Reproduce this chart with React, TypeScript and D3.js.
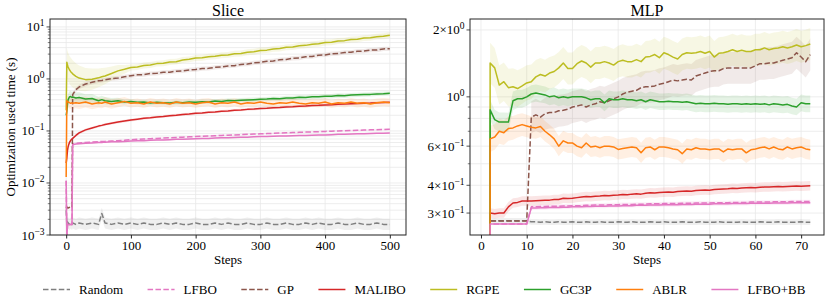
import React, { useEffect, useRef } from 'react';
import * as d3 from 'd3';

const WIDTH = 830;
const HEIGHT = 306;
const FONT = "'Liberation Serif', 'Times New Roman', Times, serif";

const METHODS = ['Random', 'LFBO', 'GP', 'MALIBO', 'RGPE', 'GC3P', 'ABLR', 'LFBO+BB'];
const COLORS = ['#7f7f7f', '#e377c2', '#8c564b', '#d62728', '#bcbd22', '#2ca02c', '#ff7f0e', '#e377c2'];
const DASHED = [true, true, true, false, false, false, false, false];

// ---- Slice (steps 0..500) ----
const SLICE_STEPS = [0, 1, 2, 3, 5, 7, 9, 10, 15, 20,
  30, 40, 50, 55, 60, 70, 80, 90, 100,
  110, 120, 130, 140, 150, 160, 170, 180, 190, 200,
  210, 220, 230, 240, 250, 260, 270, 280, 290, 300,
  310, 320, 330, 340, 350, 360, 370, 380, 390, 400,
  410, 420, 430, 440, 450, 460, 470, 480, 490, 500];

const RANDOM_SLICE = [0.003, 0.0016, 0.0018, 0.0017, 0.0016, 0.0017, 0.0016, 0.0017, 0.0016, 0.0017,
  0.0016, 0.0017, 0.0016, 0.0026, 0.0017, 0.0016, 0.0017, 0.0016, 0.0017,
  0.0016, 0.0017, 0.0016, 0.0016, 0.0017, 0.0016, 0.0017, 0.0016, 0.0016, 0.0017,
  0.0016, 0.0016, 0.0017, 0.0016, 0.0017, 0.0016, 0.0016, 0.0017, 0.0016, 0.0016,
  0.0017, 0.0016, 0.0016, 0.0017, 0.0016, 0.0016, 0.0017, 0.0016, 0.0017, 0.0016,
  0.0016, 0.0017, 0.0016, 0.0016, 0.0017, 0.0016, 0.0016, 0.0017, 0.0016, 0.0016];

const LFBO_SLICE = [0.011, 0.0009, 0.0015, 0.0016, 0.0016, 0.0016, 0.0016, 0.056, 0.058, 0.059,
  0.060, 0.061, 0.062, 0.063, 0.063, 0.064, 0.065, 0.066, 0.068,
  0.069, 0.070, 0.071, 0.072, 0.073, 0.074, 0.075, 0.076, 0.077, 0.078,
  0.079, 0.080, 0.081, 0.082, 0.083, 0.084, 0.085, 0.086, 0.087, 0.088,
  0.089, 0.090, 0.091, 0.092, 0.093, 0.094, 0.095, 0.096, 0.097, 0.098,
  0.099, 0.100, 0.101, 0.102, 0.103, 0.104, 0.105, 0.106, 0.107, 0.108];

const GP_SLICE = [0.0035, 0.0033, 0.0034, 0.0033, 0.0034, 0.0033, 0.0034, 0.50, 0.62, 0.70,
  0.80, 0.86, 0.92, 0.93, 0.96, 1.01, 1.04, 1.10, 1.15,
  1.20, 1.21, 1.27, 1.28, 1.34, 1.35, 1.41, 1.43, 1.49, 1.52,
  1.58, 1.60, 1.67, 1.70, 1.78, 1.80, 1.90, 1.93, 2.04, 2.08,
  2.19, 2.21, 2.34, 2.37, 2.50, 2.53, 2.68, 2.70, 2.86, 2.90,
  3.05, 3.08, 3.23, 3.25, 3.41, 3.43, 3.58, 3.60, 3.78, 3.80];

const MALIBO_SLICE = [0.024, 0.03, 0.042, 0.05, 0.06, 0.066, 0.07, 0.072, 0.082, 0.092,
  0.105, 0.114, 0.124, 0.128, 0.133, 0.141, 0.148, 0.155, 0.162,
  0.168, 0.175, 0.179, 0.186, 0.190, 0.197, 0.201, 0.208, 0.211, 0.218,
  0.221, 0.229, 0.232, 0.239, 0.243, 0.250, 0.253, 0.260, 0.263, 0.271,
  0.274, 0.280, 0.283, 0.290, 0.293, 0.299, 0.302, 0.308, 0.311, 0.317,
  0.319, 0.326, 0.328, 0.334, 0.336, 0.342, 0.344, 0.350, 0.351, 0.357];

const RGPE_SLICE = [0.25, 2.1, 1.85, 1.7, 1.5, 1.38, 1.3, 1.25, 1.12, 1.04,
  0.97, 0.99, 1.05, 1.1, 1.14, 1.27, 1.43, 1.53, 1.66,
  1.70, 1.81, 1.86, 1.97, 2.00, 2.12, 2.15, 2.31, 2.38, 2.52,
  2.55, 2.68, 2.72, 2.85, 2.90, 3.05, 3.09, 3.27, 3.33, 3.52,
  3.58, 3.78, 3.85, 4.05, 4.12, 4.35, 4.42, 4.65, 4.75, 5.0,
  5.08, 5.35, 5.45, 5.72, 5.8, 6.1, 6.2, 6.5, 6.62, 6.95];

const GC3P_SLICE = [0.2, 0.24, 0.33, 0.4, 0.45, 0.46, 0.44, 0.45, 0.43, 0.44,
  0.41, 0.42, 0.38, 0.40, 0.38, 0.37, 0.38, 0.36, 0.37,
  0.355, 0.36, 0.345, 0.355, 0.35, 0.345, 0.355, 0.35, 0.36, 0.355,
  0.365, 0.36, 0.375, 0.37, 0.385, 0.38, 0.39, 0.395, 0.40, 0.405,
  0.41, 0.42, 0.415, 0.43, 0.43, 0.445, 0.44, 0.455, 0.455, 0.465,
  0.465, 0.48, 0.475, 0.49, 0.495, 0.50, 0.505, 0.515, 0.52, 0.53];

const ABLR_SLICE = [0.013, 0.38, 0.37, 0.36, 0.35, 0.34, 0.35, 0.34, 0.35, 0.34,
  0.36, 0.33, 0.35, 0.34, 0.36, 0.33, 0.35, 0.37, 0.34,
  0.35, 0.33, 0.36, 0.34, 0.35, 0.33, 0.36, 0.34, 0.35, 0.33,
  0.35, 0.36, 0.33, 0.35, 0.34, 0.36, 0.33, 0.35, 0.34, 0.36,
  0.34, 0.33, 0.35, 0.34, 0.36, 0.34, 0.33, 0.35, 0.34, 0.36,
  0.33, 0.35, 0.34, 0.36, 0.34, 0.35, 0.33, 0.35, 0.36, 0.35];

const LFBO_BB_SLICE = [0.011, 0.0009, 0.0015, 0.0016, 0.0016, 0.0016, 0.0016, 0.054, 0.056, 0.057,
  0.058, 0.059, 0.060, 0.060, 0.061, 0.062, 0.062, 0.063, 0.064,
  0.065, 0.065, 0.066, 0.067, 0.067, 0.068, 0.069, 0.069, 0.070, 0.071,
  0.072, 0.072, 0.073, 0.074, 0.074, 0.075, 0.076, 0.076, 0.077, 0.078,
  0.078, 0.079, 0.080, 0.080, 0.081, 0.082, 0.082, 0.083, 0.084, 0.084,
  0.085, 0.086, 0.086, 0.087, 0.088, 0.088, 0.089, 0.090, 0.090, 0.091];

const SLICE_VALUES = [RANDOM_SLICE, LFBO_SLICE, GP_SLICE, MALIBO_SLICE, RGPE_SLICE, GC3P_SLICE, ABLR_SLICE, LFBO_BB_SLICE];
// band half-width as a ratio (fill between v/f and v*f)
const SLICE_SPREAD = [1.28, 1.04, 1.1, 1.06, 1.14, 1.1, 1.2, 1.03];
const SLICE_EARLY_SPREAD = [1.28, 1.04, 1.1, 1.06, 1.9, 1.3, 1.3, 1.03];
const SLICE_BAND_FROM = [1, 10, 10, 1, 1, 1, 1, 10];

// ---- MLP (steps 2..72) ----
const MLP_STEPS = d3.range(2, 73);
const MLP_START = 0.2; // runs enter from below the axis

const RANDOM_MLP = [0.277, 0.277, 0.277, 0.277, 0.277, 0.277, 0.277, 0.277, 0.277, 0.274,
  0.274, 0.273, 0.274, 0.273, 0.273, 0.274, 0.273, 0.273, 0.274, 0.273,
  0.273, 0.274, 0.273, 0.273, 0.274, 0.273, 0.273, 0.273, 0.274, 0.273,
  0.273, 0.274, 0.273, 0.273, 0.273, 0.274, 0.273, 0.273, 0.274, 0.273,
  0.273, 0.273, 0.274, 0.273, 0.273, 0.273, 0.274, 0.273, 0.273, 0.273,
  0.274, 0.273, 0.273, 0.273, 0.273, 0.274, 0.273, 0.273, 0.273, 0.274,
  0.273, 0.273, 0.273, 0.274, 0.273, 0.273, 0.273, 0.273, 0.274, 0.273,
  0.273];

const LFBO_MLP = [0.268, 0.268, 0.268, 0.268, 0.268, 0.268, 0.268, 0.268, 0.268, 0.32,
  0.32, 0.321, 0.321, 0.322, 0.322, 0.322, 0.323, 0.323, 0.324, 0.324,
  0.324, 0.325, 0.325, 0.326, 0.326, 0.326, 0.327, 0.327, 0.327, 0.328,
  0.328, 0.328, 0.329, 0.329, 0.329, 0.33, 0.33, 0.33, 0.331, 0.331,
  0.331, 0.331, 0.332, 0.332, 0.332, 0.333, 0.333, 0.333, 0.333, 0.334,
  0.334, 0.334, 0.334, 0.335, 0.335, 0.335, 0.335, 0.336, 0.336, 0.336,
  0.336, 0.336, 0.337, 0.337, 0.337, 0.337, 0.338, 0.338, 0.338, 0.338,
  0.338];

const GP_MLP = [0.276, 0.276, 0.276, 0.276, 0.276, 0.276, 0.276, 0.276, 0.276, 0.81,
  0.83, 0.81, 0.84, 0.85, 0.85, 0.866, 0.87, 0.88, 0.90, 0.91,
  0.92, 0.90, 0.92, 0.93, 0.95, 0.94, 0.96, 0.98, 1.0, 1.03,
  1.05, 1.06, 1.07, 1.10, 1.11, 1.11, 1.12, 1.14, 1.15, 1.17,
  1.19, 1.18, 1.19, 1.20, 1.19, 1.24, 1.26, 1.28, 1.30, 1.31,
  1.31, 1.34, 1.35, 1.35, 1.35, 1.35, 1.35, 1.35, 1.38, 1.41,
  1.41, 1.42, 1.42, 1.44, 1.46, 1.48, 1.50, 1.58, 1.51, 1.44,
  1.55];

const MALIBO_MLP = [0.30, 0.298, 0.30, 0.30, 0.32, 0.333, 0.335, 0.34, 0.34, 0.34,
  0.341, 0.342, 0.343, 0.343, 0.345, 0.345, 0.35, 0.349, 0.35, 0.352,
  0.354, 0.356, 0.355, 0.357, 0.358, 0.36, 0.359, 0.361, 0.362, 0.364,
  0.363, 0.365, 0.366, 0.365, 0.368, 0.37, 0.369, 0.371, 0.372, 0.373,
  0.372, 0.375, 0.376, 0.377, 0.376, 0.379, 0.38, 0.381, 0.38, 0.383,
  0.384, 0.385, 0.386, 0.388, 0.387, 0.389, 0.39, 0.391, 0.39, 0.392,
  0.393, 0.393, 0.394, 0.395, 0.394, 0.395, 0.396, 0.397, 0.396, 0.397,
  0.398];

const RGPE_MLP = [1.42, 1.35, 1.13, 1.17, 1.10, 1.11, 1.09, 1.12, 1.155, 1.17,
  1.23, 1.26, 1.24, 1.28, 1.30, 1.35, 1.42, 1.34, 1.34, 1.41,
  1.45, 1.42, 1.36, 1.42, 1.42, 1.44, 1.42, 1.39, 1.44, 1.46,
  1.44, 1.44, 1.47, 1.44, 1.51, 1.52, 1.55, 1.50, 1.58, 1.55,
  1.51, 1.48, 1.55, 1.58, 1.57, 1.58, 1.60, 1.57, 1.60, 1.51,
  1.57, 1.58, 1.60, 1.63, 1.60, 1.62, 1.60, 1.60, 1.63, 1.63,
  1.66, 1.63, 1.65, 1.66, 1.68, 1.66, 1.68, 1.71, 1.68, 1.70,
  1.73];

const GC3P_MLP = [0.874, 0.79, 0.77, 0.77, 0.77, 0.96, 0.98, 0.98, 1.0, 1.03,
  1.04, 1.03, 1.02, 1.0, 1.01, 0.99, 1.0, 0.99, 1.0, 1.0,
  1.0, 0.99, 0.97, 0.98, 0.98, 0.94, 0.98, 0.97, 0.97, 0.98,
  0.97, 0.97, 0.96, 0.97, 0.95, 0.97, 0.96, 0.95, 0.95, 0.955,
  0.95, 0.95, 0.945, 0.95, 0.94, 0.93, 0.935, 0.93, 0.93, 0.935,
  0.93, 0.93, 0.925, 0.93, 0.93, 0.925, 0.93, 0.925, 0.93, 0.925,
  0.93, 0.92, 0.93, 0.925, 0.92, 0.925, 0.91, 0.90, 0.94, 0.93,
  0.93];

const ABLR_MLP = [0.647, 0.66, 0.70, 0.69, 0.72, 0.725, 0.74, 0.75, 0.74, 0.73,
  0.725, 0.735, 0.70, 0.675, 0.647, 0.60, 0.634, 0.62, 0.62, 0.60,
  0.59, 0.62, 0.595, 0.60, 0.59, 0.60, 0.60, 0.595, 0.58, 0.585,
  0.59, 0.595, 0.59, 0.56, 0.59, 0.595, 0.578, 0.595, 0.595, 0.59,
  0.583, 0.578, 0.555, 0.583, 0.578, 0.59, 0.583, 0.583, 0.578, 0.583,
  0.583, 0.565, 0.583, 0.578, 0.583, 0.583, 0.56, 0.578, 0.583, 0.59,
  0.595, 0.583, 0.595, 0.583, 0.578, 0.595, 0.583, 0.59, 0.595, 0.583,
  0.578];

const LFBO_BB_MLP = [0.268, 0.268, 0.268, 0.268, 0.268, 0.268, 0.268, 0.268, 0.268, 0.316,
  0.316, 0.317, 0.317, 0.318, 0.318, 0.318, 0.319, 0.319, 0.32, 0.32,
  0.32, 0.321, 0.321, 0.322, 0.322, 0.322, 0.323, 0.323, 0.323, 0.324,
  0.324, 0.324, 0.325, 0.325, 0.325, 0.326, 0.326, 0.326, 0.327, 0.327,
  0.327, 0.327, 0.328, 0.328, 0.328, 0.329, 0.329, 0.329, 0.329, 0.33,
  0.33, 0.33, 0.33, 0.331, 0.331, 0.331, 0.331, 0.332, 0.332, 0.332,
  0.332, 0.332, 0.333, 0.333, 0.333, 0.333, 0.334, 0.334, 0.334, 0.334,
  0.334];

const MLP_VALUES = [RANDOM_MLP, LFBO_MLP, GP_MLP, MALIBO_MLP, RGPE_MLP, GC3P_MLP, ABLR_MLP, LFBO_BB_MLP];
const MLP_SPREAD = [1.03, 1.02, 1.18, 1.05, 1.18, 1.09, 1.11, 1.02];
const MLP_EARLY_SPREAD = [1.03, 1.02, 1.18, 1.05, 1.24, 1.11, 1.15, 1.02];
const MLP_BAND_FROM = [2, 11, 11, 2, 2, 2, 2, 11];

// ---- ticks ----
const SLICE_X_TICKS = [0, 100, 200, 300, 400, 500];
const MLP_X_TICKS = [0, 10, 20, 30, 40, 50, 60, 70];
const SLICE_Y_LABELS = [
  { v: 1e-3, mant: '', exp: -3 },
  { v: 1e-2, mant: '', exp: -2 },
  { v: 1e-1, mant: '', exp: -1 },
  { v: 1, mant: '', exp: 0 },
  { v: 10, mant: '', exp: 1 },
];
const MLP_Y_LABELS = [
  { v: 2, mant: '2×', exp: 0 },
  { v: 1, mant: '', exp: 0 },
  { v: 0.6, mant: '6×', exp: -1 },
  { v: 0.4, mant: '4×', exp: -1 },
  { v: 0.3, mant: '3×', exp: -1 },
];
const MLP_Y_MINOR = [0.5, 0.7, 0.8, 0.9];

function sliceMinor(): number[] {
  const out: number[] = [];
  for (let e = -3; e <= 1; e++) {
    for (let k = 2; k <= 9; k++) out.push(k * Math.pow(10, e));
  }
  return out;
}

function drawPanel(svg: any, p: any) {
  const x = d3.scaleLinear().domain(p.xDomain).range([p.left, p.right]);
  const y = d3.scaleLog().domain(p.yDomain).range([p.bottom, p.top]);
  const [yLo, yHi] = p.yDomain;
  const inY = (v: number) => v >= yLo && v <= yHi;

  const clipId = 'clip-' + p.id;
  svg.append('defs').append('clipPath').attr('id', clipId)
    .append('rect')
    .attr('x', p.left).attr('y', p.top)
    .attr('width', p.right - p.left).attr('height', p.bottom - p.top);

  const g = svg.append('g');

  // grid
  const yGrid = p.yLabels.map((d: any) => d.v).concat(p.yMinor).filter(inY);
  g.append('g').selectAll('line').data(yGrid).join('line')
    .attr('x1', p.left).attr('x2', p.right)
    .attr('y1', (d: number) => y(d)).attr('y2', (d: number) => y(d))
    .attr('stroke', '#e8e8e8').attr('stroke-width', 0.8);
  g.append('g').selectAll('line').data(p.xTicks).join('line')
    .attr('x1', (d: number) => x(d)).attr('x2', (d: number) => x(d))
    .attr('y1', p.top).attr('y2', p.bottom)
    .attr('stroke', '#e8e8e8').attr('stroke-width', 0.8);

  const plot = g.append('g').attr('clip-path', `url(#${clipId})`);

  // bands
  p.values.forEach((vals: number[], i: number) => {
    const pts = p.steps.map((s: number, j: number) => ({ s, v: vals[j] }))
      .filter((d: any) => d.s >= p.bandFrom[i]);
    const spread = (s: number) => {
      const t = Math.min(1, s / p.earlyUntil);
      return p.earlySpread[i] + (p.spread[i] - p.earlySpread[i]) * t;
    };
    const area = d3.area<any>()
      .x(d => x(d.s))
      .y0(d => y(d.v / spread(d.s)))
      .y1(d => y(d.v * spread(d.s)));
    plot.append('path').attr('d', area(pts))
      .attr('fill', COLORS[i]).attr('fill-opacity', 0.12).attr('stroke', 'none');
  });

  // lines
  p.values.forEach((vals: number[], i: number) => {
    const pts = p.steps.map((s: number, j: number) => ({ s, v: vals[j] }));
    if (p.start != null) pts.unshift({ s: p.steps[0], v: p.start });
    const line = d3.line<any>().x(d => x(d.s)).y(d => y(d.v));
    plot.append('path').attr('d', line(pts))
      .attr('fill', 'none').attr('stroke', COLORS[i]).attr('stroke-width', 1.5)
      .attr('stroke-linejoin', 'round')
      .attr('stroke-dasharray', DASHED[i] ? '5.5,2.4' : null);
  });

  // frame
  g.append('rect')
    .attr('x', p.left).attr('y', p.top)
    .attr('width', p.right - p.left).attr('height', p.bottom - p.top)
    .attr('fill', 'none').attr('stroke', '#262626').attr('stroke-width', 1);

  // x axis
  const xAxis = g.append('g').attr('transform', `translate(0,${p.bottom})`)
    .call(d3.axisBottom(x).tickValues(p.xTicks).tickSize(3.5).tickPadding(2.5).tickFormat(d3.format('d')));
  xAxis.select('.domain').remove();
  xAxis.selectAll('line').attr('stroke', '#262626');
  xAxis.selectAll('text').attr('font-family', FONT).attr('font-size', 13).attr('fill', '#000');

  // y ticks
  const tickG = g.append('g');
  tickG.selectAll('line.major').data(p.yLabels.filter((d: any) => inY(d.v))).join('line')
    .attr('x1', p.left - 3.5).attr('x2', p.left)
    .attr('y1', (d: any) => y(d.v)).attr('y2', (d: any) => y(d.v))
    .attr('stroke', '#262626').attr('stroke-width', 0.8);
  tickG.selectAll('line.minor').data(p.yMinor.filter(inY)).join('line')
    .attr('x1', p.left - 2.2).attr('x2', p.left)
    .attr('y1', (d: number) => y(d)).attr('y2', (d: number) => y(d))
    .attr('stroke', '#262626').attr('stroke-width', 0.6);

  p.yLabels.filter((d: any) => inY(d.v)).forEach((d: any) => {
    const t = tickG.append('text')
      .attr('x', p.left - 5.5).attr('y', y(d.v) + 4.5)
      .attr('text-anchor', 'end').attr('font-family', FONT).attr('font-size', 13);
    t.append('tspan').text(d.mant + '10');
    t.append('tspan').attr('dy', -5).attr('font-size', 9.5)
      .text(d.exp < 0 ? '\u2212' + -d.exp : String(d.exp));
  });

  // title and x label
  g.append('text').attr('x', (p.left + p.right) / 2).attr('y', 16)
    .attr('text-anchor', 'middle').attr('font-family', FONT).attr('font-size', 16).text(p.title);
  g.append('text').attr('x', (p.left + p.right) / 2).attr('y', 264)
    .attr('text-anchor', 'middle').attr('font-family', FONT).attr('font-size', 13).text('Steps');
}

function drawLegend(svg: any) {
  let x = 43;
  METHODS.forEach((name, i) => {
    svg.append('line')
      .attr('x1', x).attr('x2', x + 27).attr('y1', 289.5).attr('y2', 289.5)
      .attr('stroke', COLORS[i]).attr('stroke-width', 1.5)
      .attr('stroke-dasharray', DASHED[i] ? '5.5,2.4' : null);
    const t = svg.append('text').attr('x', x + 36).attr('y', 294)
      .attr('font-family', FONT).attr('font-size', 13).text(name);
    const w = (t.node() as SVGTextElement).getComputedTextLength();
    x += 36 + w + 24.5;
  });
}

export default function App() {
  const ref = useRef<SVGSVGElement>(null);

  useEffect(() => {
    document.body.style.margin = '0';
    const svg = d3.select(ref.current);
    svg.selectAll('*').remove();

    drawPanel(svg, {
      id: 'slice', title: 'Slice',
      left: 50, right: 406, top: 19, bottom: 235,
      xDomain: [-25, 525], yDomain: [1e-3, 14.2],
      xTicks: SLICE_X_TICKS, yLabels: SLICE_Y_LABELS, yMinor: sliceMinor(),
      steps: SLICE_STEPS, values: SLICE_VALUES, start: null,
      spread: SLICE_SPREAD, earlySpread: SLICE_EARLY_SPREAD, earlyUntil: 100,
      bandFrom: SLICE_BAND_FROM,
    });
    drawPanel(svg, {
      id: 'mlp', title: 'MLP',
      left: 470, right: 824, top: 19, bottom: 235,
      xDomain: [-2.4, 75], yDomain: [0.239, 2.24],
      xTicks: MLP_X_TICKS, yLabels: MLP_Y_LABELS, yMinor: MLP_Y_MINOR,
      steps: MLP_STEPS, values: MLP_VALUES, start: MLP_START,
      spread: MLP_SPREAD, earlySpread: MLP_EARLY_SPREAD, earlyUntil: 15,
      bandFrom: MLP_BAND_FROM,
    });

    svg.append('text')
      .attr('transform', 'translate(15,127) rotate(-90)')
      .attr('text-anchor', 'middle').attr('font-family', FONT).attr('font-size', 13)
      .text('Optimization used time (s)');

    drawLegend(svg);
  }, []);

  return (
    <svg ref={ref} width={WIDTH} height={HEIGHT}
      style={{ position: 'absolute', left: 0, top: 0, background: '#fff' }} />
  );
}
